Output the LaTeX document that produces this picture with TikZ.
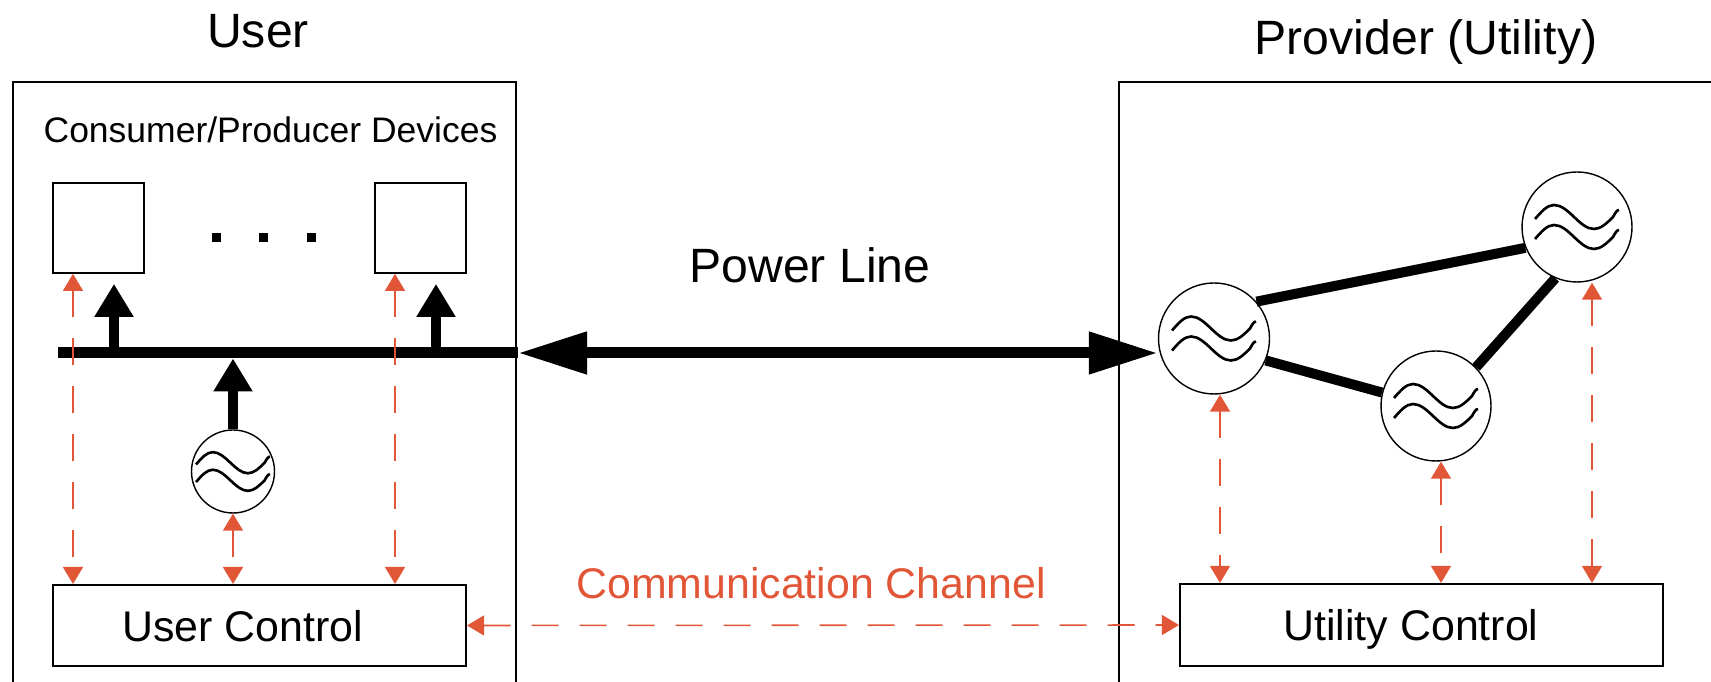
\documentclass[tikz,border=0pt]{standalone}
\usepackage{fontspec}
\setmainfont{Liberation Sans}
\usetikzlibrary{arrows.meta,positioning}
\definecolor{commred}{RGB}{226,86,56}

\begin{document}
\begin{tikzpicture}[x=0.1mm,y=-0.1mm,
  heading/.style={font=\fontsize{13.7}{16}\selectfont,text depth=0pt,inner sep=0pt},
  devtext/.style={font=\fontsize{10.1}{12}\selectfont,text depth=0pt,inner sep=0pt},
  ctrltext/.style={font=\fontsize{12.2}{14}\selectfont,text depth=0pt,inner sep=0pt},
  devbox/.style={draw,line width=0.5pt,minimum width=9.1mm,minimum height=9mm,inner sep=0pt},
  ctrlbox/.style={draw,line width=0.6pt,inner sep=0pt},
  gen/.style={circle,draw,line width=0.4pt,inner sep=0pt},
  feed/.style={line width=1mm,-{Triangle[length=3.3mm,width=3.7mm]}},
  power/.style={line width=1.1mm,{Triangle[length=6.9mm,width=4mm]}-{Triangle[length=6.9mm,width=4mm]}},
  tieline/.style={line width=1mm},
  comm/.style={commred,line width=0.45pt,dash pattern=on 2.7mm off 2.1mm,
    {Triangle[length=1.7mm,width=2mm]}-{Triangle[length=1.7mm,width=2mm]}},
  wave/.style={line width=0.75pt}]
\useasboundingbox (0,0) rectangle (1711,682);

% frames
\draw[line width=0.5pt] (13,682) |- (516,82) -- (516,682);
\draw[line width=0.5pt] (1119,682) |- (1711,82);

\node[heading] (user) at (258,31) {User};
\node[heading] (prov) at (1426,37) {Provider (Utility)};
\node[devtext] (cpd) at (270.5,130) {Consumer/Producer Devices};
\node[heading] (pl) at (810,265.5) {Power Line};
\node[ctrltext,text=commred] (cc) at (811,583) {Communication Channel};

% user side
\node[devbox] (d1) at (98.5,228) {};
\node[devbox] (d2) at (420.5,228) {};
\foreach \x in {216,263,311}
  \fill (\x-4.5,233.5) rectangle ++(9,9);
\node[gen,minimum size=8.3mm] (G) at (233,471.5) {};
\node[ctrlbox,minimum width=41.3mm,minimum height=8.1mm] (uc) at (259.5,625.5) {};
\node[ctrltext] at ([xshift=-1.7mm]uc.center) {User Control};

% provider side
\node[gen,minimum size=11.1mm] (A) at (1214,338.5) {};
\node[gen,minimum size=11mm] (B) at (1436,406) {};
\node[gen,minimum size=11mm] (C) at (1577,227) {};
\node[ctrlbox,minimum width=48.3mm,minimum height=8.2mm] (utc) at (1421.5,625) {};
\node[ctrltext] at ([xshift=-1.05mm]utc.center) {Utility Control};

\foreach \g/\s in {G/0.88,A/1,B/1,C/1}{
  \begin{scope}[shift={(\g.center)},scale=\s]
    \foreach \yc in {-10,10}
      \draw[wave] (-42,\yc+2) sin (-23,\yc-12) cos (-3,\yc) sin (17,\yc+12) cos (36,\yc) sin (42,\yc-7);
  \end{scope}}

% power
\coordinate (busL) at (58,353);
\coordinate (busR) at (518,353);
\draw[line width=1.1mm] (busL) -- (busR);
\draw[power] (busR) -- (busR -| A.west);
\draw[feed] ([xshift=1.55mm]d1.south |- busL) -- ([xshift=1.55mm,yshift=-1mm]d1.south);
\draw[feed] ([xshift=1.55mm]d2.south |- busL) -- ([xshift=1.55mm,yshift=-1mm]d2.south);
\draw[feed] (G.north) -- ([yshift=-0.55mm]G.north |- busL);
\draw[tieline] (A.41) -- (C.202);
\draw[tieline] (A.-23) -- (B.166);
\draw[tieline] (B.44) -- (C.247);

% communication
\foreach \n/\dx in {d1/-2.55,d2/-2.55,G/0}
  \draw[comm] ([xshift=\dx mm]\n.south) -- ([xshift=\dx mm]\n.south |- uc.north);
\foreach \n/\dx in {A/0.6,B/0.5,C/1.5}
  \draw[comm] ([xshift=\dx mm]\n.south) -- ([xshift=\dx mm]\n.south |- utc.north);
\draw[comm] (uc.east) -- (utc.west);
\end{tikzpicture}
\end{document}
